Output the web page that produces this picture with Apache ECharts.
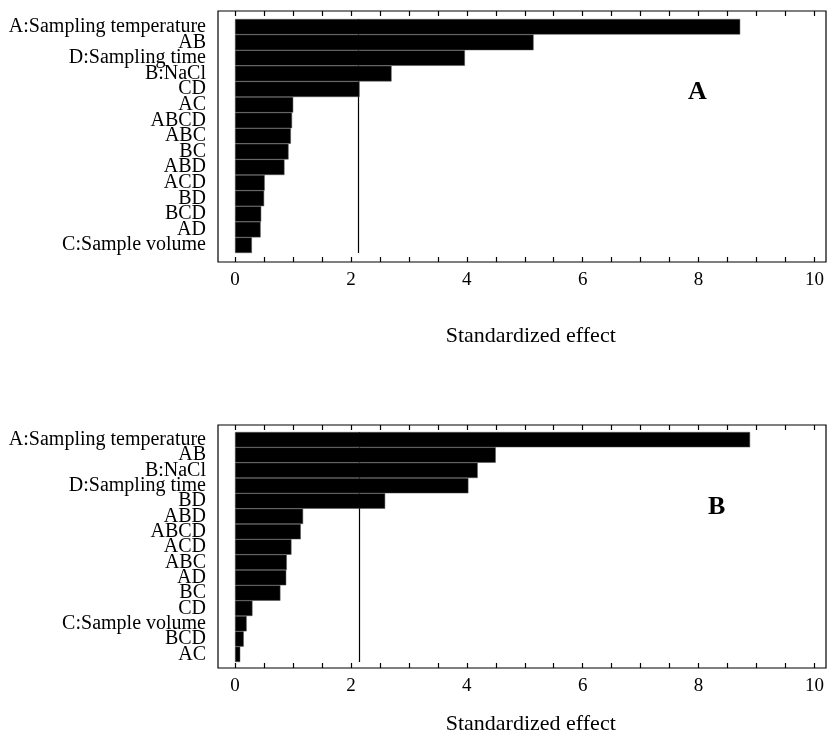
<!DOCTYPE html>
<html>
<head>
<meta charset="utf-8">
<title>Pareto charts</title>
<script src="https://cdn.jsdelivr.net/npm/echarts@6/dist/echarts.min.js"></script>
<style>
  html, body { margin: 0; padding: 0; background: #fff; }
  #main { width: 827px; height: 740px; }
</style>
</head>
<body>
<div id="main"></div>
<script>
// chart A (top)
var catsA = ['A:Sampling temperature', 'AB', 'D:Sampling time', 'B:NaCl', 'CD', 'AC', 'ABCD', 'ABC', 'BC', 'ABD', 'ACD', 'BD', 'BCD', 'AD', 'C:Sample volume'];
var valsA = [8.68, 5.13, 3.95, 2.69, 2.14, 1.00, 0.98, 0.96, 0.92, 0.85, 0.51, 0.50, 0.45, 0.44, 0.29];
// chart B (bottom)
var catsB = ['A:Sampling temperature', 'AB', 'B:NaCl', 'D:Sampling time', 'BD', 'ABD', 'ABCD', 'ACD', 'ABC', 'AD', 'BC', 'CD', 'C:Sample volume', 'BCD', 'AC'];
var valsB = [8.85, 4.48, 4.17, 4.01, 2.58, 1.17, 1.13, 0.97, 0.89, 0.88, 0.78, 0.30, 0.20, 0.15, 0.09];
// significance line and axis labels
var threshA = 2.12;
var threshB = 2.14;
var tickLabels = [0, 2, 4, 6, 8, 10];
var axisTitle = 'Standardized effect';

var serif = 'Liberation Serif';
var chart = echarts.init(document.getElementById('main'));

function fmt(v) {
  return tickLabels.indexOf(Math.round(v * 100) / 100) >= 0 ? String(v) : '';
}

// one panel = frame grid + tick grid + bar grid
function panel(p) {
  var g0 = p.idx * 3;
  var xBar = p.idx * 4 + 3, yBar = p.idx * 3 + 2;
  var grids = [
    { left: 218, width: 608, top: p.frameTop, height: p.frameH, show: true, borderColor: '#000', borderWidth: 1.2, backgroundColor: 'transparent' },
    { left: 235, width: 582, top: p.frameTop, height: p.frameH },
    { left: 235, width: 582, top: p.barTop, height: p.barH }
  ];
  var xAxes = [
    { gridIndex: g0, type: 'value', min: 0, max: 1, show: false },
    { gridIndex: g0 + 1, type: 'value', position: 'bottom', min: 0, max: 10, interval: 0.5,
      axisLine: { show: false }, splitLine: { show: false },
      axisTick: { show: true, inside: true, length: 5, lineStyle: { color: '#000', width: 1.2 } },
      axisLabel: { formatter: fmt, color: '#000', fontFamily: serif, fontSize: 19, margin: 9, showMaxLabel: true },
      name: axisTitle, nameLocation: 'middle', nameGap: p.nameGap,
      nameTextStyle: { color: '#000', fontFamily: serif, fontSize: 22, padding: [0, 0, 0, 12] } },
    { gridIndex: g0 + 1, type: 'value', position: 'top', min: 0, max: 10, interval: 0.5,
      axisLine: { show: false }, splitLine: { show: false },
      axisTick: { show: true, inside: true, length: 5, lineStyle: { color: '#000', width: 1.2 } },
      axisLabel: { show: false } },
    { gridIndex: g0 + 2, type: 'value', min: 0, max: 10, show: false }
  ];
  var yAxes = [
    { gridIndex: g0, type: 'value', min: 0, max: 1, show: false },
    { gridIndex: g0 + 1, type: 'value', min: 0, max: 1, show: false },
    { gridIndex: g0 + 2, type: 'category', inverse: true, data: p.cats,
      axisLine: { show: false }, axisTick: { show: false },
      axisLabel: { interval: 0, color: '#000', fontFamily: serif, fontSize: 20, margin: 29, lineHeight: 16 } }
  ];
  var series = [
    { type: 'bar', xAxisIndex: xBar, yAxisIndex: yBar, z: 3,
      data: p.vals, barCategoryGap: '0%',
      itemStyle: { color: '#000', borderColor: '#555', borderWidth: 0.5 },
      silent: true,
      // threshold line sits under the bars
      markLine: {
        z: 1, silent: true, symbol: 'none', label: { show: false },
        lineStyle: { color: '#000', width: 1.2, type: 'solid' },
        data: [{ xAxis: p.thresh }]
      } }
  ];
  return { grids: grids, xAxes: xAxes, yAxes: yAxes, series: series };
}

var pA = panel({ idx: 0, cats: catsA, vals: valsA, thresh: threshA, frameTop: 11, frameH: 251, barTop: 19, barH: 234, nameGap: 63 });
var pB = panel({ idx: 1, cats: catsB, vals: valsB, thresh: threshB, frameTop: 425, frameH: 243, barTop: 432, barH: 230, nameGap: 45 });

var option = {
  animation: false,
  backgroundColor: '#fff',
  title: [
    { text: 'A', left: 683, top: 74, textStyle: { fontFamily: serif, fontSize: 26, fontWeight: 'bold', color: '#000' } },
    { text: 'B', left: 703, top: 489, textStyle: { fontFamily: serif, fontSize: 26, fontWeight: 'bold', color: '#000' } }
  ],
  grid: pA.grids.concat(pB.grids),
  xAxis: pA.xAxes.concat(pB.xAxes),
  yAxis: pA.yAxes.concat(pB.yAxes),
  series: pA.series.concat(pB.series)
};

chart.setOption(option);
</script>
</body>
</html>
